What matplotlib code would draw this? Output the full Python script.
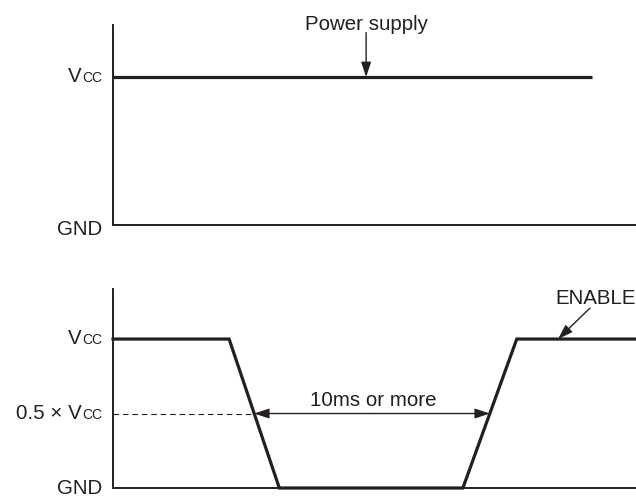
import matplotlib
matplotlib.use("Agg")
import matplotlib.pyplot as plt

# ---- data ----
supply_t = [0.0, 91.6]
supply_v = [1.0, 1.0]
enable_t = [0.0, 22.2, 31.8, 66.9, 77.2, 100.0]
enable_v = [1.0, 1.0, 0.0, 0.0, 1.0, 1.0]
threshold = 0.5
cross_t = [27.0, 72.05]
level_names = ["GND", "Vcc"]
level_values = [0.0, 1.0]
supply_label = "Power supply"
enable_label = "ENABLE"
interval_label = "10ms or more"

INK = "#231f20"
FS = 14.8
FS_SMALL = 10
plt.rcParams["font.family"] = ["Liberation Sans", "DejaVu Sans"]

fig = plt.figure(figsize=(6.36, 4.98), dpi=100)
ax1 = fig.add_axes([113 / 636, 1 - 225 / 498, 523 / 636, 200 / 498])
ax2 = fig.add_axes([113 / 636, 1 - 488 / 498, 523 / 636, 199 / 498])

for ax, top in ((ax1, 1.351), (ax2, 1.336)):
    ax.set_xlim(0, 100)
    ax.set_ylim(0, top)
    for s in ("top", "right"):
        ax.spines[s].set_visible(False)
    for s in ("left", "bottom"):
        ax.spines[s].set_color(INK)
        ax.spines[s].set_linewidth(1.4)
    ax.set_xticks([])
    ax.set_yticks([])
    ax.patch.set_alpha(0)


def vcc_label(ax, y, prefix="V"):
    ax.annotate("CC", xy=(0, y), xycoords=("axes fraction", "data"),
                xytext=(-8, 0), textcoords="offset points",
                ha="right", va="baseline", fontsize=FS_SMALL, color=INK,
                annotation_clip=False)
    ax.annotate(prefix, xy=(0, y), xycoords=("axes fraction", "data"),
                xytext=(-8 - 14.6, 0), textcoords="offset points",
                ha="right", va="baseline", fontsize=FS, color=INK,
                annotation_clip=False)


def gnd_label(ax, y):
    ax.annotate(level_names[0], xy=(0, y), xycoords=("axes fraction", "data"),
                xytext=(-8, 0), textcoords="offset points",
                ha="right", va="center_baseline", fontsize=FS, color=INK,
                annotation_clip=False)


arrow_kw = dict(arrowstyle="-|>,head_length=0.6,head_width=0.2",
                mutation_scale=15, color=INK, lw=1.0, shrinkA=0, shrinkB=0)

# ---- top panel: power supply ----
ax1.plot(supply_t, supply_v, color=INK, lw=2.3, solid_capstyle="butt", clip_on=False)
ax1.annotate("", xy=(48.4, level_values[1]), xytext=(48.4, 1.30),
             arrowprops=arrow_kw)
ax1.text(48.5, 1.318, supply_label, ha="center", va="baseline",
         fontsize=FS, color=INK)
vcc_label(ax1, level_values[1] - 0.035)
gnd_label(ax1, level_values[0] - 0.02)

# ---- bottom panel: ENABLE ----
ax2.plot(enable_t, enable_v, color=INK, lw=2.3, solid_joinstyle="miter",
         clip_on=False)
ax2.plot([0, cross_t[0]], [threshold, threshold], color=INK, lw=0.8,
         ls=(0, (5, 3.5)))
ax2.annotate("", xy=(cross_t[0], threshold), xytext=(49.5, threshold),
             arrowprops=arrow_kw)
ax2.annotate("", xy=(cross_t[1], threshold), xytext=(49.5, threshold),
             arrowprops=arrow_kw)
ax2.text(49.7, 0.55, interval_label, ha="center", va="baseline",
         fontsize=FS, color=INK)
ax2.annotate("", xy=(85.1, 1.0), xytext=(91.2, 1.208), arrowprops=arrow_kw)
ax2.text(92.2, 1.232, enable_label, ha="center", va="baseline",
         fontsize=FS, color=INK, clip_on=False)
vcc_label(ax2, level_values[1] - 0.035)
vcc_label(ax2, threshold - 0.035, prefix="0.5 \u00d7 V")
gnd_label(ax2, level_values[0] + 0.012)

fig.savefig("out.png", dpi=100)
